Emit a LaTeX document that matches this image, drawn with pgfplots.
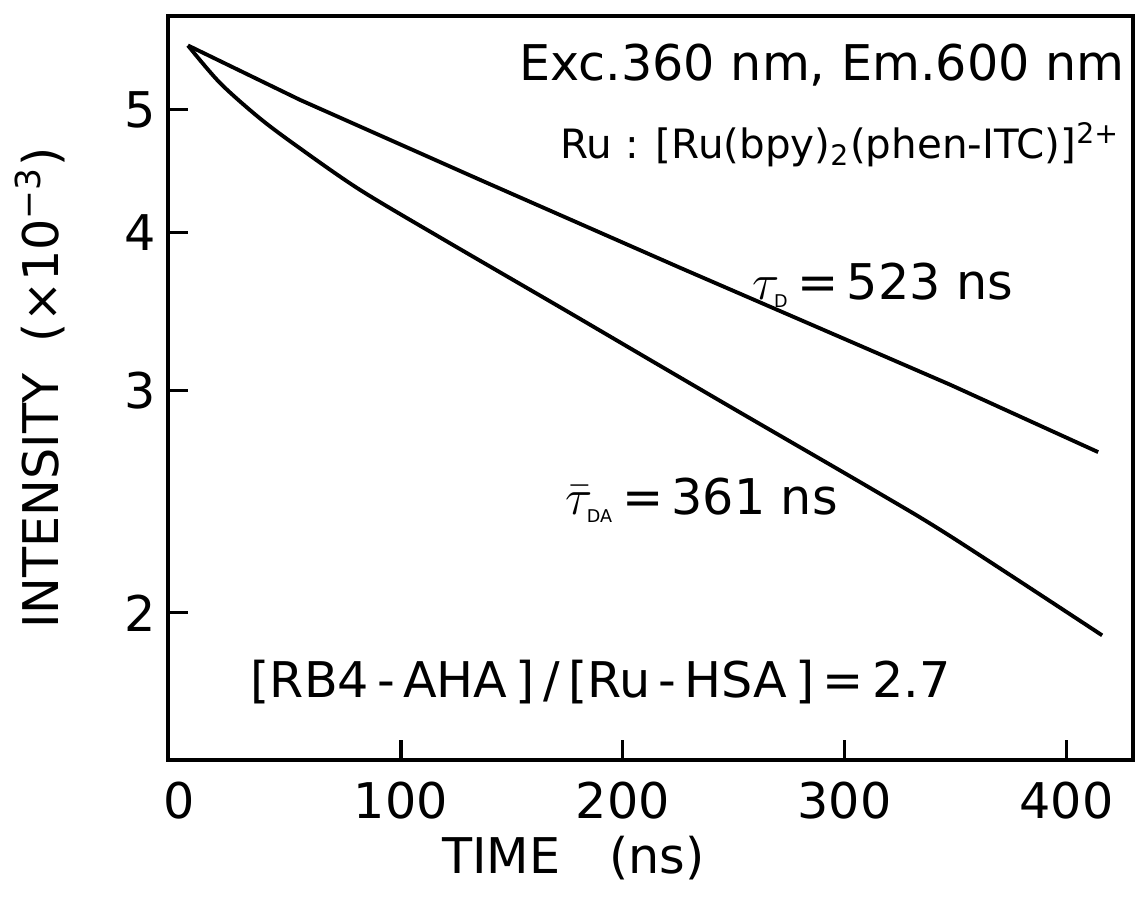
\documentclass[border=0pt]{standalone}
\usepackage{fontspec}
\setmainfont{DejaVu Sans}
\usepackage{pgfplots}
\pgfplotsset{compat=1.18}

\begin{document}
\begin{tikzpicture}
\begin{axis}[
  scale only axis, width=9.65cm, height=7.44cm,
  xmin=-5, xmax=430,
  ymode=log, ymin=1.53, ymax=5.93,
  xtick={100,200,300,400},
  extra x ticks={0}, extra x tick style={major tick length=0pt},
  ytick={2,3,4,5}, yticklabels={2,3,4,5},
  minor ytick={},
  xtick pos=bottom, ytick pos=left,
  tick align=inside, major tick length=2mm,
  axis line style={line width=0.9pt},
  every tick/.style={line width=0.9pt, black},
  tick label style={font=\fontsize{14}{16}\selectfont},
  /pgf/number format/assume math mode=true,
  xticklabel style={yshift=-1mm},
  xlabel={TIME\quad(ns)},
  ylabel={INTENSITY\ \ (×10\textsuperscript{−3})},
  every axis x label/.style={at={(rel axis cs:0.42,0)}, anchor=center,
    yshift=-9.8mm, font=\fontsize{14}{16}\selectfont},
  every axis y label/.style={at={(rel axis cs:0,0.5)}, anchor=center,
    xshift=-12.8mm, rotate=90, font=\fontsize{14}{16}\selectfont},
  clip=false,
]
% donor alone
\addplot[black, line width=1.1pt] coordinates {
  (4.0,5.62) (54.5,5.09) (135.7,4.40) (225.8,3.75) (347.6,3.03) (414.3,2.68)
};
% donor with acceptor
\addplot[black, line width=1.1pt, smooth] coordinates {
  (4.0,5.62) (18.4,5.25) (36.5,4.92) (54.5,4.66) (81.6,4.32) (119,3.95)
  (171.7,3.49) (212.3,3.17) (251.5,2.89) (313.3,2.50) (347.6,2.30) (416.1,1.92)
};
\node[anchor=east, inner sep=0pt, font=\fontsize{14}{16}\selectfont] at (rel axis cs:0.992,0.934) {Exc.360 nm, Em.600 nm};
\node[anchor=east, inner sep=0pt, font=\fontsize{11.5}{13}\selectfont] at (rel axis cs:0.987,0.827) {Ru : [Ru(bpy)\textsubscript{2}(phen-ITC)]\textsuperscript{2+}};
\node[anchor=west, inner sep=0pt, font=\fontsize{14}{16}\selectfont] at (rel axis cs:0.605,0.638) {$\tau_{\mbox{\tiny D}}$\,=\,523 ns};
\node[anchor=west, inner sep=0pt, font=\fontsize{14}{16}\selectfont] at (rel axis cs:0.411,0.349) {$\bar{\tau}_{\mbox{\tiny DA}}$\,=\,361 ns};
\node[anchor=west, inner sep=0pt, font=\fontsize{14}{16}\selectfont] at (rel axis cs:0.085,0.105) {[RB4\,-\,AHA\,]\,/\,[Ru\,-\,HSA\,]\,=\,2.7};
\end{axis}
\path (current axis.south west) ++(-1.68cm,-1.52cm) (current axis.north east) ++(0.04cm,0.16cm);
\end{tikzpicture}
\end{document}
